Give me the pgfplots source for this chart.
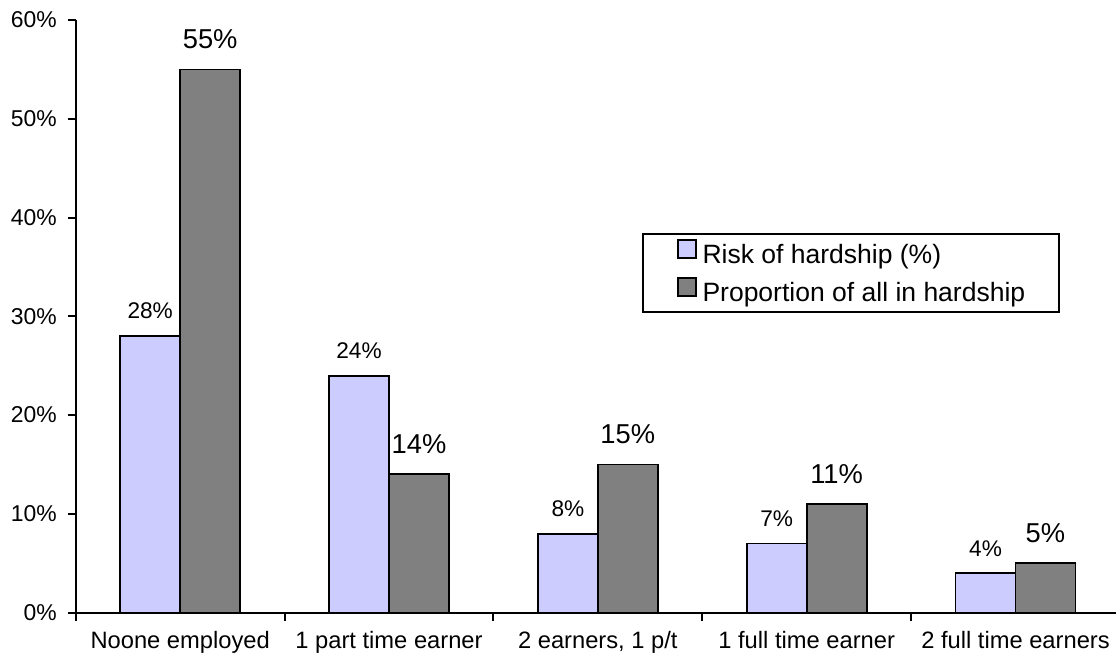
\documentclass[border=0pt]{standalone}
\usepackage{fontspec}
\setmainfont{Liberation Sans}
\usepackage{pgfplots}
\pgfplotsset{compat=1.18}

\definecolor{riskblue}{RGB}{204,204,255}
\definecolor{sharegray}{RGB}{128,128,128}

\newcommand\ticksize{\fontsize{17.2}{20}\selectfont}

\begin{document}
\begin{tikzpicture}
\begin{axis}[
  scale only axis,
  width=780.75pt, height=444.75pt,
  xmin=-0.5, xmax=4.481, ymin=0, ymax=60,
  ybar=0pt, bar width=45pt,
  axis x line*=bottom, axis y line*=left,
  axis line style={line width=1.6pt},
  tick align=outside,
  major tick length=6pt, minor tick length=6pt,
  tick style={black, line width=1.4pt},
  xtick={0,1,2,3,4},
  xticklabels={Noone employed, 1 part time earner, {2 earners, 1 p/t}, 1 full time earner, 2 full time earners},
  major x tick style={draw=none},
  minor xtick={-0.5,0.5,1.5,2.5,3.5},
  ytick={0,10,...,60},
  yticklabel={\ticksize\pgfmathprintnumber{\tick}\%},
  x tick label style={font=\fontsize{17.8}{21}\selectfont, inner sep=0pt, yshift=-8pt},
  y tick label style={font=\ticksize, inner sep=0pt, xshift=-8pt},
  /pgf/number format/assume math mode=true,
  nodes near coords={\pgfmathprintnumber{\pgfplotspointmeta}\%},
  legend style={
    at={(0.5447,0.6408)}, anchor=north west,
    draw=black, line width=1.5pt,
    font=\fontsize{19.9}{23}\selectfont,
    inner xsep=25pt, inner ysep=4pt,
    row sep=6pt, column sep=4.5pt,
    nodes={inner sep=0pt, text height=14pt, text depth=4pt},
  },
  legend cell align=left,
  legend image code/.code={\draw[#1] (0pt,-1pt) rectangle (13.5pt,12.5pt);},
  clip=false,
]

% Risk of hardship within each household type
\addplot[fill=riskblue, draw=black, line width=1.4pt,
  every node near coord/.append style={font=\fontsize{17}{20}\selectfont, inner sep=0pt, yshift=12pt, text=black}]
  coordinates {(0,28) (1,24) (2,8) (3,7) (4,4)};

% Share of everyone in hardship
\addplot[fill=sharegray, draw=black, line width=1.4pt,
  every node near coord/.append style={font=\fontsize{20.5}{24}\selectfont, inner sep=0pt, yshift=14.6pt, text=black}]
  coordinates {(0,55) (1,14) (2,15) (3,11) (4,5)};

\legend{Risk of hardship (\%), Proportion of all in hardship}
\end{axis}
% breathing room at the left and top edges
\path ([xshift=-8.25pt]current bounding box.west);
\path ([yshift=9pt]current bounding box.north);
\end{tikzpicture}
\end{document}
